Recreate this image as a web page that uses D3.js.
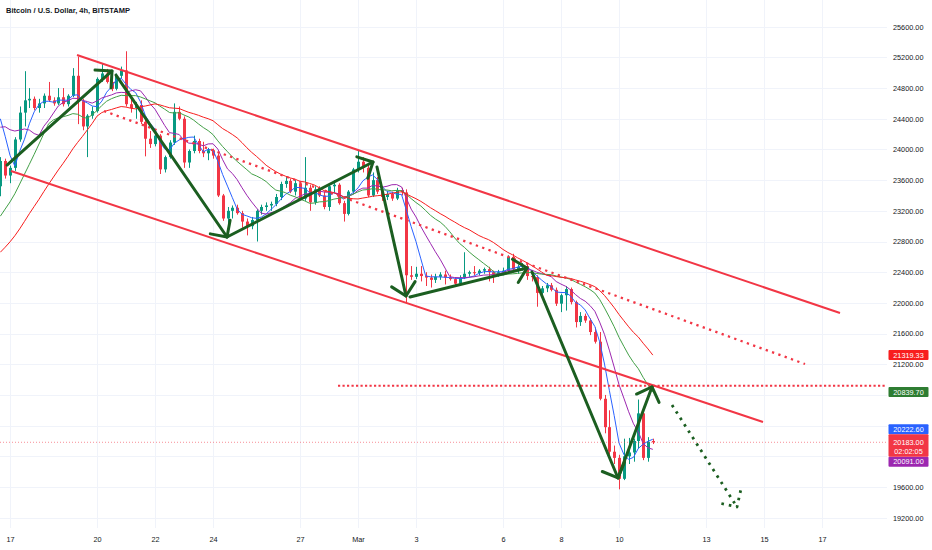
<!DOCTYPE html>
<html><head><meta charset="utf-8">
<script src="https://cdnjs.cloudflare.com/ajax/libs/d3/7.8.5/d3.min.js"></script>
<style>html,body{margin:0;padding:0;background:#fff;} svg{display:block;font-family:"Liberation Sans",Arial,sans-serif;}</style>
</head><body><svg id="c" width="932" height="550"></svg>
<script>
// ---------------- DATA ----------------
const title = "Bitcoin / U.S. Dollar, 4h, BITSTAMP";
const firstCandleUTC = Date.UTC(2023, 1, 16, 16); // first visible 4h candle
const candleHours = 4;

// off-screen 4h closes before the first visible candle (needed by the moving averages)
const priorCloses = [21700,21650,21750,21800,21700,21650,21720,21780,21700,21750,
  21800,21900,22000,21950,22050,22100,21950,21900,22000,22050,
  23600,24150,24300,24350,24500,24800,25000,24830,23520];

const opens = [23520,23850,23660,23760,24130,24480,24640,24660,24540,24600,24700,24640,24600,24680,24590,24700,24960,24630,24300,24440,
  24500,24920,24990,24880,24790,24960,25030,24590,24540,24580,24360,24140,24070,24180,23740,23900,24090,24490,24400,23830,
  23980,24110,23980,23950,23990,23920,23400,23100,23200,23240,23170,23060,23000,23080,23200,23250,23270,23290,23380,23550,
  23590,23450,23560,23360,23500,23310,23480,23400,23250,23520,23540,23300,23160,23450,23740,23840,23760,23400,23600,23450,
  23380,23420,23360,23470,23440,22360,22340,22380,22350,22330,22300,22340,22370,22330,22310,22250,22330,22380,22400,22390,
  22420,22440,22400,22370,22400,22420,22600,22440,22470,22480,22350,22335.9,22130,22190,22230,22170,21990,22100,22180,22010,
  21750,21830,21770,21620,21494,20750,20380,20060,19980,19707,20000,20050,20200,20560,19980,20200];
const highs = [23900,23880,23790,24160,24560,25020,24800,24690,24660,24730,24880,24680,24800,24800,24720,25060,25210,24660,24460,24560,
  24940,25120,25050,24900,24990,25080,25280,24660,24620,24640,24420,24240,24220,24200,23920,24120,24600,24560,24430,24000,
  24180,24140,24100,24020,24010,23950,23420,23250,23270,23280,23200,23100,23120,23220,23280,23310,23320,23420,23580,23640,
  23620,23600,23580,23900,23540,23520,23520,23450,23560,23600,23560,23330,23470,23760,23990,23900,23800,23700,23640,23500,
  23460,23450,23500,23500,23480,22480,22470,22480,22400,22370,22380,22400,22420,22370,22330,22360,22660,22420,22480,22440,
  22460,22470,22420,22430,22460,22620,22640,22500,22520,22500,22420,22360,22220,22260,22260,22200,22120,22220,22200,22030,
  21880,21860,21800,21680,21620,20800,20600,20140,20020,20230,20240,20230,20740,20600,20250,20230];
const lows = [23390,23620,23560,23720,24100,24300,24540,24510,24480,24540,24620,24570,24580,24560,24560,24680,24330,24250,23900,24400,
  24480,24880,24860,24760,24770,24930,24560,24480,24400,24330,23910,24020,24040,23680,23700,23880,24060,24380,23760,23760,
  23950,23950,23900,23860,23880,23380,23070,23000,23100,23150,22980,22880,22960,22800,23150,23200,23200,23260,23340,23500,
  23430,23400,23340,23330,23200,23280,23380,23220,23200,23440,23280,23060,23140,23420,23700,23700,23380,23380,23420,23330,
  23340,23330,23340,23400,22000,22300,22310,22280,22220,22200,22260,22300,22240,22290,22220,22230,22310,22340,22360,22360,
  22380,22280,22260,22340,22360,22400,22400,22380,22420,22300,22280,21950,22080,22140,22150,21960,21880,21900,21980,21680,
  21700,21740,21580,21470,20730,20300,20020,19900,19570,19690,19900,19930,20100,19950,19930,20160];
const closes = [23850,23660,23760,24130,24480,24640,24660,24540,24600,24700,24640,24600,24680,24590,24700,24960,24630,24300,24440,24500,
  24920,24990,24880,24790,24960,25030,24590,24540,24580,24360,24140,24070,24180,23740,23900,24090,24490,24400,23830,23980,
  24110,23980,23950,23990,23920,23400,23100,23200,23240,23170,23060,23000,23080,23200,23250,23270,23290,23380,23550,23590,
  23450,23560,23360,23500,23310,23480,23400,23250,23520,23540,23300,23160,23450,23740,23840,23760,23400,23600,23450,23380,
  23420,23360,23470,23440,22360,22340,22380,22350,22330,22300,22340,22370,22330,22310,22250,22330,22380,22400,22390,22420,
  22440,22400,22370,22400,22420,22600,22440,22470,22480,22350,22335.9,22130,22190,22230,22170,21990,22100,22180,22010,21750,
  21830,21770,21620,21494,20750,20380,20060,19980,19707,20000,20050,20200,20560,19980,20190,20183];

const maPeriods = [5, 10, 20, 30];
const priceTicks = [19200,19600,20000,20400,20800,21200,21600,22000,22400,22800,23200,23600,24000,24400,24800,25200,25600];
const dateTicks = ["2023-02-17","2023-02-20","2023-02-22","2023-02-24","2023-02-27","2023-03-01","2023-03-03","2023-03-06","2023-03-08","2023-03-10","2023-03-13","2023-03-15","2023-03-17"];
const dateLabels = ["17","20","22","24","27","Mar","3","6","8","10","13","15","17"];
const countdown = "02:02:05";

// drawings: [days after 17 Feb 00:00, price]
const channelUpper = [[2.310, 25231], [28.621, 21868]];
const channelLower = [[0.034, 23719], [25.966, 20448]];
const dottedTrend  = [[3.241, 24501], [27.414, 21203]];
const dottedLevel  = [[11.31, 20920], [30.28, 20920]];
const waveArrows = [
  [[-0.103, 23797], [3.517, 25023]],
  [[3.655, 24970], [7.483, 22859]],
  [[7.483, 22859], [12.517, 23836]],
  [[12.655, 23771], [13.655, 22090]],
  [[13.793, 22077], [17.828, 22455]],
  [[18.0, 22403], [20.966, 19718]],
  [[20.966, 19718], [22.138, 20904]]
];
const forecastArrow = [[22.828, 20669], [25.069, 19340]];

// ---------------- STYLE ----------------
const UP = "#089981", DOWN = "#f23645";
const maColors = ["#2962ff", "#9c27b0", "#43a047", "#f81e1e"];
const maBoxColors = ["#2962ff", "#9c27b0", "#2e7d32", "#f81e1e"];
const FS = 7.3;
const paneRight = 887, paneBottom = 528;

// ---------------- SCALES ----------------
const day0 = Date.UTC(2023, 1, 17);
const x = d3.scaleUtc().domain([new Date(day0), new Date(Date.UTC(2023, 2, 17))]).range([10, 822]);
const y = d3.scaleLinear().domain([19200, 25600]).range([517.7, 26.7]);
const tOf = i => new Date(firstCandleUTC + i * candleHours * 3600e3);
const tDay = d => new Date(day0 + d * 86400e3);
const P = p => [x(tDay(p[0])), y(p[1])];

const svg = d3.select("#c");
svg.append("rect").attr("width", 932).attr("height", 550).attr("fill", "#fff");
svg.append("defs").append("clipPath").attr("id", "pane")
  .append("rect").attr("x", 0).attr("y", 0).attr("width", paneRight).attr("height", paneBottom);

// grid
const grid = svg.append("g").attr("clip-path", "url(#pane)");
grid.selectAll("line.h").data(priceTicks).join("line")
  .attr("x1", 0).attr("x2", paneRight)
  .attr("y1", d => Math.round(y(d)) + 0.5).attr("y2", d => Math.round(y(d)) + 0.5)
  .attr("stroke", "#f0f3fa");
grid.selectAll("line.v").data(dateTicks).join("line")
  .attr("y1", 0).attr("y2", paneBottom)
  .attr("x1", d => Math.round(x(new Date(d + "T00:00:00Z"))) + 0.5)
  .attr("x2", d => Math.round(x(new Date(d + "T00:00:00Z"))) + 0.5)
  .attr("stroke", "#f0f3fa");

// candles
const candles = closes.map((c, i) => ({ i, o: opens[i], h: highs[i], l: lows[i], c }));
const cg = svg.append("g").attr("clip-path", "url(#pane)");
cg.selectAll("line.w").data(candles).join("line")
  .attr("x1", d => Math.round(x(tOf(d.i))) + 0.5).attr("x2", d => Math.round(x(tOf(d.i))) + 0.5)
  .attr("y1", d => y(d.h)).attr("y2", d => y(d.l))
  .attr("stroke", d => d.c >= d.o ? UP : DOWN).attr("stroke-width", 1);
cg.selectAll("rect.b").data(candles).join("rect")
  .attr("x", d => Math.round(x(tOf(d.i))) - 1)
  .attr("width", 3)
  .attr("y", d => y(Math.max(d.o, d.c)))
  .attr("height", d => Math.max(1, Math.abs(y(d.o) - y(d.c))))
  .attr("fill", d => d.c >= d.o ? UP : DOWN);

// moving averages
const all = priorCloses.concat(closes);
const off = priorCloses.length;
const maSeries = maPeriods.map(p => closes.map((c, i) => {
  const j = i + off;
  return { i, v: d3.mean(all.slice(j - p + 1, j + 1)) };
}));
const line = d3.line().x(d => x(tOf(d.i))).y(d => y(d.v));
const mg = svg.append("g").attr("clip-path", "url(#pane)");
maSeries.forEach((s, k) => {
  mg.append("path").datum(s).attr("d", line).attr("fill", "none")
    .attr("stroke", maColors[k]).attr("stroke-width", 1);
});

// current price line
const last = closes[closes.length - 1];
svg.append("line").attr("x1", 0).attr("x2", paneRight)
  .attr("y1", y(last)).attr("y2", y(last))
  .attr("stroke", DOWN).attr("stroke-width", 1).attr("stroke-dasharray", "1,2").attr("opacity", 0.55);

// drawings
const dg = svg.append("g").attr("clip-path", "url(#pane)");
const seg = (pts, color, w, dash) => {
  const a = P(pts[0]), b = P(pts[1]);
  const l = dg.append("line").attr("x1", a[0]).attr("y1", a[1]).attr("x2", b[0]).attr("y2", b[1])
    .attr("stroke", color).attr("stroke-width", w);
  if (dash) l.attr("stroke-dasharray", dash);
  return l;
};
seg(channelUpper, "#f23645", 2);
seg(channelLower, "#f23645", 2);
seg(dottedTrend, "#f23645", 2.3, "2.3,4.4");
seg(dottedLevel, "#f23645", 2.2, "2.2,2.3");

const ARROW = "#1b5e20";
function arrow(pts, dash) {
  const a = P(pts[0]), b = P(pts[1]);
  const dx = a[0] - b[0], dy = a[1] - b[1], len = Math.hypot(dx, dy);
  const ux = dx / len, uy = dy / len, L = 17, ang = Math.PI / 4;
  const rot = s => [b[0] + L * (ux * Math.cos(s) - uy * Math.sin(s)), b[1] + L * (ux * Math.sin(s) + uy * Math.cos(s))];
  const h1 = rot(ang), h2 = rot(-ang);
  const g = dg.append("g").attr("fill", "none").attr("stroke", ARROW)
    .attr("stroke-width", dash ? 2.8 : 3).attr("stroke-linecap", dash ? "butt" : "round").attr("stroke-linejoin", "round");
  const p1 = g.append("path").attr("d", `M${a[0]},${a[1]}L${b[0]},${b[1]}`);
  const p2 = g.append("path").attr("d", `M${h1[0]},${h1[1]}L${b[0]},${b[1]}L${h2[0]},${h2[1]}`);
  if (dash) { p1.attr("stroke-dasharray", dash); p2.attr("stroke-dasharray", dash); }
}
waveArrows.forEach(a => arrow(a));
arrow(forecastArrow, "2.6,5");

// title
svg.append("text").attr("x", 6).attr("y", 13.4).attr("font-size", 7.5).attr("font-weight", "bold")
  .attr("fill", "#131722").text(title);

// axis value labels layout (computed first so covered tick labels can be left out)
const boxX = 888.5, boxW = 40, boxH = 10;
const yl = y(last);
const mainTop = yl - 8, mainBot = mainTop + 22.5;
const lastMA = maSeries.map(s => s[s.length - 1].v);
const boxes = lastMA.map((v, k) => {
  let cy = y(v);
  if (cy + boxH / 2 > mainTop && cy - boxH / 2 < mainBot) {
    cy = v >= last ? mainTop - boxH / 2 : mainBot + boxH / 2;
  }
  return { k, v, top: cy - boxH / 2, bot: cy + boxH / 2, cy };
});
const occupied = boxes.map(b => [b.top, b.bot]).concat([[mainTop, mainBot]]);
const visibleTicks = priceTicks.filter(t => {
  const ty = y(t);
  return !occupied.some(([a, b]) => ty + 3.5 > a && ty - 3.5 < b);
});

// price axis
const ya = svg.append("g").attr("transform", "translate(893,0)")
  .call(d3.axisRight(y).tickValues(visibleTicks).tickFormat(d => d.toFixed(2)).tickSize(0).tickPadding(0));
ya.select(".domain").remove();
ya.selectAll("text").attr("font-size", FS).attr("font-family", "Liberation Sans, Arial, sans-serif").attr("fill", "#131722");

// time axis
const xa = svg.append("g").attr("transform", "translate(0,537)")
  .call(d3.axisBottom(x).tickValues(dateTicks.map(d => new Date(d + "T00:00:00Z")))
    .tickFormat((d, i) => dateLabels[i]).tickSize(0).tickPadding(0));
xa.select(".domain").remove();
xa.selectAll("text").attr("font-size", FS).attr("font-family", "Liberation Sans, Arial, sans-serif").attr("fill", "#131722");

const lab = svg.append("g").attr("font-size", FS).attr("text-anchor", "middle").attr("fill", "#fff");
boxes.forEach(b => {
  lab.append("rect").attr("x", boxX).attr("y", b.top).attr("width", boxW).attr("height", boxH)
    .attr("rx", 1).attr("fill", maBoxColors[b.k]);
  lab.append("text").attr("x", boxX + boxW / 2).attr("y", b.cy).attr("dy", "0.36em").text(b.v.toFixed(2));
});
lab.append("rect").attr("x", boxX).attr("y", mainTop).attr("width", boxW).attr("height", mainBot - mainTop)
  .attr("rx", 1).attr("fill", DOWN);
lab.append("text").attr("x", boxX + boxW / 2).attr("y", yl).attr("dy", "0.36em").text(last.toFixed(2));
lab.append("text").attr("x", boxX + boxW / 2).attr("y", yl + 8.8).attr("dy", "0.36em").text(countdown);
</script></body></html>
